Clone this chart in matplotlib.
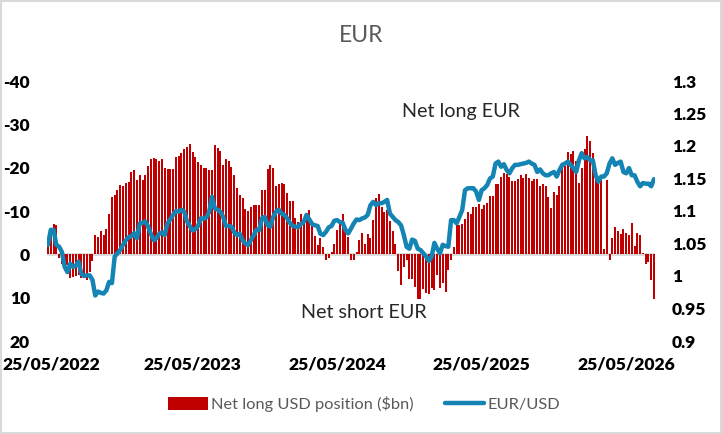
import numpy as np
import matplotlib
matplotlib.use("Agg")
import matplotlib.pyplot as plt
import matplotlib.transforms as mtransforms
from matplotlib.patches import Patch, Rectangle
from matplotlib.lines import Line2D

plt.rcParams['font.family'] = ['Lato', 'DejaVu Sans']

# Net long USD position vs EUR ($bn), weekly (negative = net long EUR)
net_usd = [
    -2, -6, -7, -6.8, 0.8, 2.2, 3, 2.5, 5.5, 5.2, 5, 4.8, 5.5, 5.5, 6, 4, 1.6,
    -4.4, -4.1, -5.5, -4.5, -5.9, -9.4, -13.3, -13.8, -14.8, -16.1, -15.8, -16.5,
    -16.8, -19.1, -19.5, -17.2, -18.4, -17.2, -18.4,
    -20.5, -22.1, -22.3, -22.1, -21.6, -22.1, -20, -19.8, -19.8, -19.8, -22.5,
    -22.8, -23.5, -24.2, -24.8, -25.5, -23.7, -22.5, -21.4, -20.7, -20, -20,
    -19.5, -19.5, -25.3, -24.6, -23.9, -20.7, -22.1, -21.6, -20.2, -18.4, -15.4,
    -13.8, -13.1, -10.5,
    -10.1, -11, -11.5, -11.5, -11.5, -14.9, -14.9, -19.8, -20.7, -20, -15.8,
    -16.3, -16.5, -16.3, -14.2, -12.2, -12.2, -8.5, -7.5, -9.4, -8.2, -9.4,
    -10.3, -7.1, -4.3, -2.2, -3.8, -1.8, 1.4, 0.8, -0.6, -2.5, -5.7, -7.5, -9.4,
    -5.7,
    -4, 1.2, 1.4, -0.6, -3.4, -5, -2.5, -4.8, -3.8, -8, -13.1, -14, -11, -9.8,
    -10.3, -7.8, -5.5, -2.5, 3.9, 7, 3, 1.2, 5.8, 5.8, 7.6, 10.2, 10.2, 8.1, 9,
    9.2, 7.8, 8.3, 4.8, 7.8, 6.7, 8.8,
    3.5, 1.4, -1.8, -6.8, -6.8, -7.1, -8.2, -9.8, -9.4, -11, -11, -11.7, -10.5,
    -11.5, -11.9, -13.5, -13.5, -16.3, -16.3, -17.9, -18.8, -18.6, -17.9, -17,
    -17, -17.5, -18.2, -17.7, -18.6, -17.7, -17, -17.5, -17.5, -15.8, -16.3,
    -15.8,
    -13.3, -10.8, -14.5, -13.8, -15.8, -20.3, -20.3, -23.7, -23.2, -23.9, -21.5,
    -16.5, -20, -24.4, -27.2, -26.1, -23.4, -18.8, -17.7, -17.7, -1.3, -17.1,
    1.2, -3.8, -6.2, -5.3, -4.8, -5.9, -5, -4.4, -7.3, -2, -5, -4.4, -0.4, 2.3,
    1.8, 6, 10.4,
]

eurusd = [
    1.048, 1.071, 1.071, 1.048, 1.045, 1.037, 1.014, 1.006, 1.019, 1.014, 1.016,
    1.022, 1.003, 1.000, 1.001, 1.001, 0.994, 0.970, 0.976, 0.974, 0.973, 0.978,
    0.991, 0.989, 1.030, 1.035, 1.040, 1.048, 1.055, 1.060, 1.061, 1.066, 1.058,
    1.081, 1.082, 1.084,
    1.076, 1.065, 1.055, 1.058, 1.065, 1.067, 1.063, 1.081, 1.087, 1.094, 1.100,
    1.099, 1.102, 1.099, 1.084, 1.077, 1.070, 1.072, 1.077, 1.089, 1.088, 1.090,
    1.099, 1.122, 1.104, 1.102, 1.099, 1.091, 1.077, 1.077, 1.076, 1.067, 1.063,
    1.065, 1.055, 1.050,
    1.0475, 1.055, 1.063, 1.071, 1.071, 1.089, 1.091, 1.078, 1.076, 1.091, 1.099,
    1.102, 1.096, 1.094, 1.089, 1.082, 1.077, 1.076, 1.075, 1.080, 1.083, 1.094,
    1.087, 1.080, 1.078, 1.077, 1.065, 1.063, 1.068, 1.075, 1.077, 1.085, 1.086,
    1.083, 1.082, 1.071,
    1.0655, 1.073, 1.081, 1.087, 1.086, 1.0886, 1.090, 1.094, 1.109, 1.114, 1.109,
    1.112, 1.112, 1.114, 1.117, 1.096, 1.091, 1.086, 1.083, 1.078, 1.063, 1.045,
    1.042, 1.056, 1.054, 1.042, 1.040, 1.035, 1.030, 1.023, 1.030, 1.051, 1.042,
    1.035, 1.048, 1.046,
    1.045, 1.086, 1.086, 1.081, 1.091, 1.1015, 1.132, 1.135, 1.135, 1.135, 1.130,
    1.117, 1.132, 1.135, 1.140, 1.150, 1.153, 1.173, 1.176, 1.168, 1.172, 1.163,
    1.158, 1.166, 1.171, 1.171, 1.172, 1.173, 1.174, 1.176, 1.173, 1.171, 1.160,
    1.164, 1.158, 1.155,
    1.155, 1.158, 1.160, 1.153, 1.163, 1.171, 1.173, 1.176, 1.171, 1.166, 1.160,
    1.178, 1.189, 1.181, 1.183, 1.178, 1.178, 1.155, 1.145, 1.153, 1.153, 1.158,
    1.173, 1.181, 1.171, 1.174, 1.176, 1.160, 1.158, 1.166, 1.155, 1.155, 1.145,
    1.138, 1.143, 1.142, 1.142, 1.138, 1.149,
]

x_tick_labels = ["25/05/2022", "25/05/2023", "25/05/2024", "25/05/2025", "25/05/2026"]
weeks_per_label = 52
left_ticks = [-40, -30, -20, -10, 0, 10, 20]
right_ticks = [0.9, 0.95, 1.0, 1.05, 1.1, 1.15, 1.2, 1.25, 1.3]

n = len(net_usd)
x = np.arange(n)

fig = plt.figure(figsize=(7.22, 4.34), dpi=100)
fig.patch.set_facecolor("white")
fig.add_artist(Rectangle((0.0015, 0.0025), 0.997, 0.995, transform=fig.transFigure,
                         fill=False, edgecolor="#d9d9d9", linewidth=1.5))

ax = fig.add_axes([46.6 / 722, 1 - 341 / 434, (655.4 - 46.6) / 722, 260 / 434])
ax.bar(x, net_usd, width=0.72, color="#c00000", zorder=2)
ax.axhline(0, color="#d9d9d9", linewidth=2, zorder=1)
ax.set_xlim(-0.5, n - 0.5)
ax.set_ylim(20, -40)
ax.set_yticks(left_ticks)
ax.set_yticklabels([str(t) for t in left_ticks])
ax.set_xticks(np.arange(len(x_tick_labels)) * weeks_per_label)
ax.set_xticklabels(x_tick_labels)
ax.tick_params(axis="y", length=0, pad=12, labelsize=12.5)
ax.tick_params(axis="x", length=0, pad=11, labelsize=12.6)
for lab in ax.get_yticklabels() + ax.get_xticklabels():
    lab.set_fontweight("heavy")
    lab.set_color("black")
# keep the first date label inside the figure, as in the reference
first = ax.get_xticklabels()[0]
first.set_transform(first.get_transform() +
                    mtransforms.ScaledTranslation(3 / 100, 0, fig.dpi_scale_trans))
for s in ax.spines.values():
    s.set_visible(False)
ax.set_facecolor("none")

ax2 = ax.twinx()
ax2.plot(x, eurusd, color="#1384b4", linewidth=3.2, solid_joinstyle="round",
         solid_capstyle="round", zorder=3)
ax2.set_ylim(0.9, 1.3)
ax2.set_yticks(right_ticks)
ax2.set_yticklabels([f"{t:g}" for t in right_ticks])
ax2.tick_params(axis="y", length=0, pad=12, labelsize=12.5)
for lab in ax2.get_yticklabels():
    lab.set_fontweight("heavy")
    lab.set_color("black")
for s in ax2.spines.values():
    s.set_visible(False)

fig.text(361 / 722, 1 - 35 / 434, "EUR", ha="center", va="center",
         fontsize=16.5, color="#595959")
fig.text(461 / 722, 1 - 112 / 434, "Net long EUR", ha="center", va="center",
         fontsize=14.2, color="#262626")
fig.text(364 / 722, 1 - 312 / 434, "Net short EUR", ha="center", va="center",
         fontsize=14.2, color="#262626")

handles = [Patch(facecolor="#c00000", edgecolor="none"),
           Line2D([0], [0], color="#1384b4", linewidth=3.2, solid_capstyle="round")]
leg = fig.legend(handles, ["Net long USD position ($bn)", "EUR/USD"],
                 loc="center", bbox_to_anchor=(364 / 722, 1 - 404 / 434), ncol=2,
                 frameon=False, fontsize=11.8, handlelength=2.4, handleheight=0.9,
                 handletextpad=0.2, columnspacing=1.9)
for t in leg.get_texts():
    t.set_color("#595959")

fig.savefig("out.png", dpi=100, facecolor="white")
